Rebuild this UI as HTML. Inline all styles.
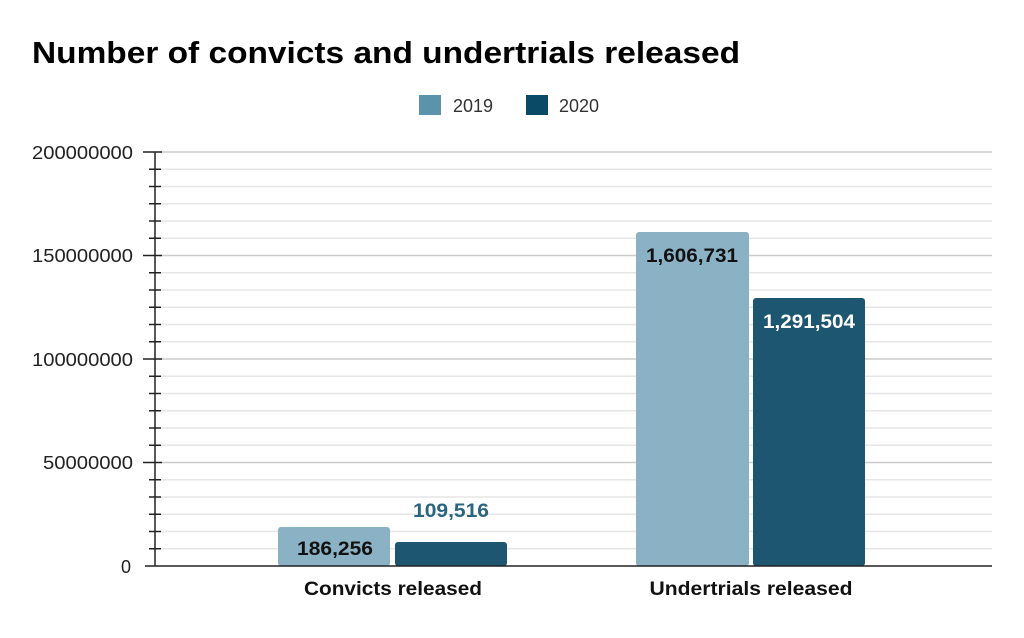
<!DOCTYPE html>
<html><head><style>body{margin:0;background:#fff}</style></head><body>
<svg width="1024" height="633" xmlns="http://www.w3.org/2000/svg" font-family="Liberation Sans, sans-serif">
<text x="32" y="63" font-size="31" font-weight="bold" fill="#000" textLength="708" lengthAdjust="spacingAndGlyphs">Number of convicts and undertrials released</text>
<rect x="419" y="95" width="22" height="20" fill="#5b93ad"/>
<text x="453" y="112" font-size="18" fill="#333">2019</text>
<rect x="526" y="95" width="22" height="20" fill="#0b4a66"/>
<text x="559" y="112" font-size="18" fill="#333">2020</text>
<g stroke="#e6e6e6" stroke-width="1.5">
<line x1="160" x2="992" y1="169.25" y2="169.25"/><line x1="160" x2="992" y1="186.5" y2="186.5"/><line x1="160" x2="992" y1="203.75" y2="203.75"/><line x1="160" x2="992" y1="221" y2="221"/><line x1="160" x2="992" y1="238.25" y2="238.25"/>
<line x1="160" x2="992" y1="272.75" y2="272.75"/><line x1="160" x2="992" y1="290" y2="290"/><line x1="160" x2="992" y1="307.25" y2="307.25"/><line x1="160" x2="992" y1="324.5" y2="324.5"/><line x1="160" x2="992" y1="341.75" y2="341.75"/>
<line x1="160" x2="992" y1="376.25" y2="376.25"/><line x1="160" x2="992" y1="393.5" y2="393.5"/><line x1="160" x2="992" y1="410.75" y2="410.75"/><line x1="160" x2="992" y1="428" y2="428"/><line x1="160" x2="992" y1="445.25" y2="445.25"/>
<line x1="160" x2="992" y1="479.75" y2="479.75"/><line x1="160" x2="992" y1="497" y2="497"/><line x1="160" x2="992" y1="514.25" y2="514.25"/><line x1="160" x2="992" y1="531.5" y2="531.5"/><line x1="160" x2="992" y1="548.75" y2="548.75"/>
</g>
<g stroke="#ccc" stroke-width="1.5">
<line x1="160" x2="992" y1="152" y2="152"/><line x1="160" x2="992" y1="255.5" y2="255.5"/><line x1="160" x2="992" y1="359" y2="359"/><line x1="160" x2="992" y1="462.5" y2="462.5"/>
</g>
<g stroke="#222" stroke-width="1.5">
<line x1="155" x2="155" y1="152" y2="566"/>
<line x1="143" x2="162" y1="152" y2="152"/><line x1="143" x2="162" y1="255.5" y2="255.5"/><line x1="143" x2="162" y1="359" y2="359"/><line x1="143" x2="162" y1="462.5" y2="462.5"/>
<line x1="149" x2="161" y1="169.25" y2="169.25"/><line x1="149" x2="161" y1="186.5" y2="186.5"/><line x1="149" x2="161" y1="203.75" y2="203.75"/><line x1="149" x2="161" y1="221" y2="221"/><line x1="149" x2="161" y1="238.25" y2="238.25"/>
<line x1="149" x2="161" y1="272.75" y2="272.75"/><line x1="149" x2="161" y1="290" y2="290"/><line x1="149" x2="161" y1="307.25" y2="307.25"/><line x1="149" x2="161" y1="324.5" y2="324.5"/><line x1="149" x2="161" y1="341.75" y2="341.75"/>
<line x1="149" x2="161" y1="376.25" y2="376.25"/><line x1="149" x2="161" y1="393.5" y2="393.5"/><line x1="149" x2="161" y1="410.75" y2="410.75"/><line x1="149" x2="161" y1="428" y2="428"/><line x1="149" x2="161" y1="445.25" y2="445.25"/>
<line x1="149" x2="161" y1="479.75" y2="479.75"/><line x1="149" x2="161" y1="497" y2="497"/><line x1="149" x2="161" y1="514.25" y2="514.25"/><line x1="149" x2="161" y1="531.5" y2="531.5"/><line x1="149" x2="161" y1="548.75" y2="548.75"/>
</g>
<g font-size="18" fill="#222" text-anchor="end">
<text x="133" y="159" textLength="101" lengthAdjust="spacingAndGlyphs">200000000</text><text x="133" y="262" textLength="101" lengthAdjust="spacingAndGlyphs">150000000</text><text x="133" y="366" textLength="101" lengthAdjust="spacingAndGlyphs">100000000</text><text x="133" y="469" textLength="90" lengthAdjust="spacingAndGlyphs">50000000</text><text x="131" y="573">0</text>
</g>
<rect x="278" y="527" width="112" height="39" rx="3" fill="#8ab1c4"/>
<rect x="395" y="542" width="112" height="24" rx="3" fill="#1d5670"/>
<rect x="636" y="232" width="113" height="334" rx="3" fill="#8ab1c4"/>
<rect x="753" y="298" width="112" height="268" rx="3" fill="#1d5670"/>
<line x1="145" x2="992" y1="566" y2="566" stroke="#222" stroke-width="1.5"/>
<g font-size="19" font-weight="bold" text-anchor="middle" lengthAdjust="spacingAndGlyphs">
<text x="335" y="555" fill="#111" textLength="76" lengthAdjust="spacingAndGlyphs">186,256</text>
<text x="451" y="517" fill="#2a6580" textLength="76" lengthAdjust="spacingAndGlyphs">109,516</text>
<text x="692" y="262" fill="#111" textLength="92" lengthAdjust="spacingAndGlyphs">1,606,731</text>
<text x="809" y="328" fill="#fff" textLength="92" lengthAdjust="spacingAndGlyphs">1,291,504</text>
<text x="393" y="595" fill="#111" textLength="178" lengthAdjust="spacingAndGlyphs">Convicts released</text>
<text x="751" y="595" fill="#111" textLength="203" lengthAdjust="spacingAndGlyphs">Undertrials released</text>
</g>
</svg>
</body></html>
